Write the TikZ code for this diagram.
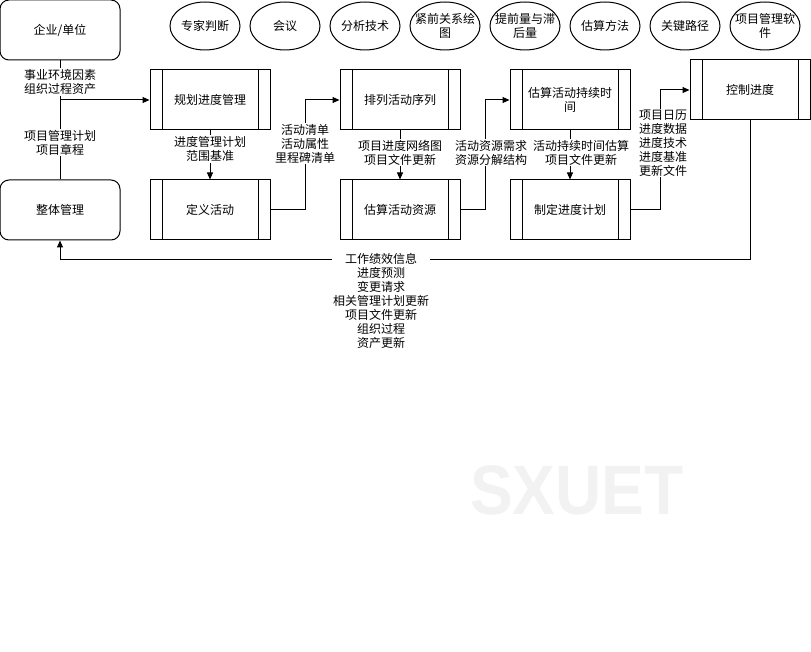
\documentclass[tikz,border=0pt]{standalone}
\usepackage{fontspec}
\setmainfont{Noto Sans CJK SC}
\newfontfamily\wmfont{Liberation Sans}
\usetikzlibrary{arrows.meta,shapes.geometric}
\definecolor{wmgray}{RGB}{242,242,242}

\tikzset{
  every node/.style={font=\fontsize{12}{14}\selectfont, align=center},
  outer/.style={draw, rounded corners=9pt, minimum width=120pt, minimum height=60pt},
  proc/.style={draw, minimum width=120pt, minimum height=60pt,
    path picture={
      \draw ([xshift=12pt]path picture bounding box.north west) -- ([xshift=12pt]path picture bounding box.south west);
      \draw ([xshift=-12pt]path picture bounding box.north east) -- ([xshift=-12pt]path picture bounding box.south east);
    }},
  tool/.style={draw, ellipse, minimum width=70pt, minimum height=48pt, inner xsep=-6pt, inner ysep=0pt},
  lbl/.style={fill=white, inner sep=1pt},
  flow/.style={-{Triangle[length=7pt,width=6pt]}},
}

\begin{document}
\begin{tikzpicture}[x=1pt, y=-1pt, line width=1pt]
  \useasboundingbox (0,0) rectangle (811,652);

  % Watermark
  \node[text=wmgray, font=\wmfont\bfseries\fontsize{70}{70}\selectfont] (wm) at (577,490) {\scalebox{0.915}[1]{SXUET}};

  % Tools and techniques
  \foreach \txt [count=\i] in {专家判断, 会议, 分析技术, {紧前关系绘\\图}, {提前量与滞\\后量}, 估算方法, 关键路径, {项目管理软\\件}} {
    \node[tool] (tool\i) at (125+80*\i, 26) {\txt};
  }

  % Outside the process
  \node[outer] (biz) at (60,30) {企业/单位};
  \node[outer] (whole) at (60,210) {整体管理};

  % Processes
  \node[proc] (plan) at (210,100) {规划进度管理};
  \node[proc] (define) at (210,210) {定义活动};
  \node[proc] (seq) at (400,100) {排列活动序列};
  \node[proc] (res) at (400,210) {估算活动资源};
  \node[proc] (dur) at (570,100) {估算活动持续时\\间};
  \node[proc] (sched) at (570,210) {制定进度计划};
  \node[proc] (ctrl) at (750,90) {控制进度};

  % Connectors
  \coordinate (fb) at (60,260);
  \draw (biz) -- (whole);
  \draw[flow] (biz.south |- plan.west) -- (plan.west);
  \draw[flow] (plan) -- (define);
  \draw[flow] (define.east) -- ++(35,0) |- (seq.west);
  \draw[flow] (seq) -- (res);
  \draw[flow] (res.east) -- ++(25,0) |- (dur.west);
  \draw[flow] (dur) -- (sched);
  \draw[flow] (sched.east) -- ++(30,0) |- (ctrl.west);
  \draw[flow] (ctrl.south) |- (fb) -- (whole.south);

  % Inputs and outputs
  \node[lbl] (envin) at (60,82) {事业环境因素\\组织过程资产};
  \node[lbl] (planin) at (60,142.5) {项目管理计划\\项目章程};
  \node[lbl] (planout) at (210,149) {进度管理计划\\范围基准};
  \node[lbl] (defout) at (305,143.5) {活动清单\\活动属性\\里程碑清单};
  \node[lbl] (seqout) at (400,152.5) {项目进度网络图\\项目文件更新};
  \node[lbl] (resout) at (491,152.5) {活动资源需求\\资源分解结构};
  \node[lbl] (durout) at (581,152.5) {活动持续时间估算\\项目文件更新};
  \node[lbl] (schedout) at (663,143) {项目日历\\进度数据\\进度技术\\进度基准\\更新文件};
  \node[lbl, anchor=north] (ctrlout) at (381,252) {工作绩效信息\\进度预测\\变更请求\\相关管理计划更新\\项目文件更新\\组织过程\\资产更新};
\end{tikzpicture}
\end{document}
